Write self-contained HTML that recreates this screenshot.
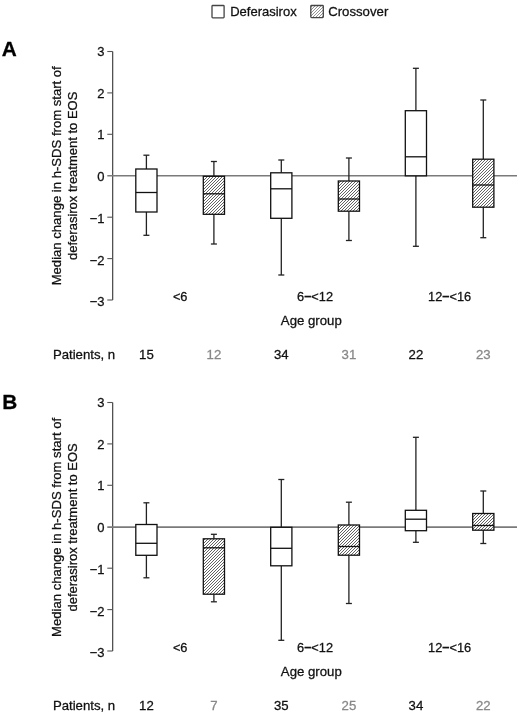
<!DOCTYPE html><html><head><meta charset="utf-8"><style>
html,body{margin:0;padding:0;background:#fff;}
body{width:520px;height:715px;overflow:hidden;filter:grayscale(1);}
svg{display:block;}
text{font-family:"Liberation Sans", sans-serif;stroke-width:0.28px;}
</style></head><body>
<svg width="520" height="715" viewBox="0 0 520 715">
<rect width="520" height="715" fill="#fff"/>
<rect x="212" y="5.5" width="12.1" height="12.3" fill="#fff" stroke="#444" stroke-width="1.3" rx="0.8"/>
<text x="230.2" y="15.7" font-size="13" fill="#111" stroke="#111">Deferasirox</text>
<clipPath id="c1"><rect x="310.80" y="5.50" width="12.50" height="12.10"/></clipPath>
<rect x="310.80" y="5.50" width="12.50" height="12.10" fill="#fff"/>
<path clip-path="url(#c1)" d="M297.40,17.60 L309.50,5.50 M300.40,17.60 L312.50,5.50 M303.40,17.60 L315.50,5.50 M306.40,17.60 L318.50,5.50 M309.40,17.60 L321.50,5.50 M312.40,17.60 L324.50,5.50 M315.40,17.60 L327.50,5.50 M318.40,17.60 L330.50,5.50 M321.40,17.60 L333.50,5.50" stroke="#777" stroke-width="0.80" fill="none"/>
<rect x="310.8" y="5.5" width="12.5" height="12.1" fill="none" stroke="#444" stroke-width="1.3" rx="0.8"/>
<text x="328.2" y="15.7" font-size="13.2" fill="#111" stroke="#111">Crossover</text>
<text x="1.7" y="56" font-size="20.8" font-weight="bold" fill="#000" stroke="#000">A</text>
<text transform="translate(61.3,175.8) rotate(-90)" font-size="13.1" text-anchor="middle" fill="#111" stroke="#111">Median change in h-SDS from start of</text>
<text transform="translate(76.8,175.8) rotate(-90)" font-size="13" text-anchor="middle" fill="#111" stroke="#111">deferasirox treatment to EOS</text>
<line x1="112.7" y1="51.5" x2="112.7" y2="300.0" stroke="#333" stroke-width="1.1"/>
<line x1="107.3" y1="51.5" x2="112.7" y2="51.5" stroke="#555" stroke-width="1.1"/>
<text x="104.6" y="55.9" font-size="13" text-anchor="end" fill="#111" stroke="#111">3</text>
<line x1="107.3" y1="92.9" x2="112.7" y2="92.9" stroke="#555" stroke-width="1.1"/>
<text x="104.6" y="97.6" font-size="13" text-anchor="end" fill="#111" stroke="#111">2</text>
<line x1="107.3" y1="134.3" x2="112.7" y2="134.3" stroke="#555" stroke-width="1.1"/>
<text x="104.6" y="139.3" font-size="13" text-anchor="end" fill="#111" stroke="#111">1</text>
<text x="104.6" y="181.1" font-size="13" text-anchor="end" fill="#111" stroke="#111">0</text>
<line x1="107.3" y1="217.2" x2="112.7" y2="217.2" stroke="#555" stroke-width="1.1"/>
<text x="104.6" y="222.8" font-size="13" text-anchor="end" fill="#111" stroke="#111">−1</text>
<line x1="107.3" y1="258.6" x2="112.7" y2="258.6" stroke="#555" stroke-width="1.1"/>
<text x="104.6" y="264.5" font-size="13" text-anchor="end" fill="#111" stroke="#111">−2</text>
<line x1="107.3" y1="300.0" x2="112.7" y2="300.0" stroke="#555" stroke-width="1.1"/>
<text x="104.6" y="306.2" font-size="13" text-anchor="end" fill="#111" stroke="#111">−3</text>
<line x1="107.3" y1="175.76" x2="517" y2="175.76" stroke="#7a7a7a" stroke-width="1.7"/>
<line x1="146.4" y1="155.2" x2="146.4" y2="169.0" stroke="#222" stroke-width="1.3"/>
<line x1="146.4" y1="212.0" x2="146.4" y2="235.3" stroke="#222" stroke-width="1.3"/>
<line x1="143.4" y1="155.2" x2="149.4" y2="155.2" stroke="#222" stroke-width="1.3"/>
<line x1="143.4" y1="235.3" x2="149.4" y2="235.3" stroke="#222" stroke-width="1.3"/>
<rect x="135.8" y="169.0" width="21.2" height="43.0" fill="#fff" stroke="#111" stroke-width="1.3"/>
<line x1="135.8" y1="192.5" x2="157.0" y2="192.5" stroke="#111" stroke-width="1.3"/>
<line x1="213.9" y1="161.5" x2="213.9" y2="176.3" stroke="#222" stroke-width="1.3"/>
<line x1="213.9" y1="214.3" x2="213.9" y2="244.0" stroke="#222" stroke-width="1.3"/>
<line x1="210.9" y1="161.5" x2="216.9" y2="161.5" stroke="#222" stroke-width="1.3"/>
<line x1="210.9" y1="244.0" x2="216.9" y2="244.0" stroke="#222" stroke-width="1.3"/>
<clipPath id="c2"><rect x="203.30" y="176.30" width="21.20" height="38.00"/></clipPath>
<rect x="203.30" y="176.30" width="21.20" height="38.00" fill="#fff"/>
<path clip-path="url(#c2)" d="M163.70,214.30 L201.70,176.30 M166.70,214.30 L204.70,176.30 M169.70,214.30 L207.70,176.30 M172.70,214.30 L210.70,176.30 M175.70,214.30 L213.70,176.30 M178.70,214.30 L216.70,176.30 M181.70,214.30 L219.70,176.30 M184.70,214.30 L222.70,176.30 M187.70,214.30 L225.70,176.30 M190.70,214.30 L228.70,176.30 M193.70,214.30 L231.70,176.30 M196.70,214.30 L234.70,176.30 M199.70,214.30 L237.70,176.30 M202.70,214.30 L240.70,176.30 M205.70,214.30 L243.70,176.30 M208.70,214.30 L246.70,176.30 M211.70,214.30 L249.70,176.30 M214.70,214.30 L252.70,176.30 M217.70,214.30 L255.70,176.30 M220.70,214.30 L258.70,176.30 M223.70,214.30 L261.70,176.30" stroke="#5a5a5a" stroke-width="0.95" fill="none"/>
<rect x="203.3" y="176.3" width="21.2" height="38.0" fill="none" stroke="#111" stroke-width="1.3"/>
<line x1="203.3" y1="193.8" x2="224.5" y2="193.8" stroke="#111" stroke-width="1.3"/>
<line x1="281.3" y1="160.0" x2="281.3" y2="172.8" stroke="#222" stroke-width="1.3"/>
<line x1="281.3" y1="218.3" x2="281.3" y2="275.0" stroke="#222" stroke-width="1.3"/>
<line x1="278.3" y1="160.0" x2="284.3" y2="160.0" stroke="#222" stroke-width="1.3"/>
<line x1="278.3" y1="275.0" x2="284.3" y2="275.0" stroke="#222" stroke-width="1.3"/>
<rect x="270.7" y="172.8" width="21.2" height="45.5" fill="#fff" stroke="#111" stroke-width="1.3"/>
<line x1="270.7" y1="188.8" x2="291.9" y2="188.8" stroke="#111" stroke-width="1.3"/>
<line x1="348.9" y1="158.0" x2="348.9" y2="181.0" stroke="#222" stroke-width="1.3"/>
<line x1="348.9" y1="211.2" x2="348.9" y2="240.5" stroke="#222" stroke-width="1.3"/>
<line x1="345.9" y1="158.0" x2="351.9" y2="158.0" stroke="#222" stroke-width="1.3"/>
<line x1="345.9" y1="240.5" x2="351.9" y2="240.5" stroke="#222" stroke-width="1.3"/>
<clipPath id="c3"><rect x="338.30" y="181.00" width="21.20" height="30.20"/></clipPath>
<rect x="338.30" y="181.00" width="21.20" height="30.20" fill="#fff"/>
<path clip-path="url(#c3)" d="M307.80,211.20 L338.00,181.00 M310.80,211.20 L341.00,181.00 M313.80,211.20 L344.00,181.00 M316.80,211.20 L347.00,181.00 M319.80,211.20 L350.00,181.00 M322.80,211.20 L353.00,181.00 M325.80,211.20 L356.00,181.00 M328.80,211.20 L359.00,181.00 M331.80,211.20 L362.00,181.00 M334.80,211.20 L365.00,181.00 M337.80,211.20 L368.00,181.00 M340.80,211.20 L371.00,181.00 M343.80,211.20 L374.00,181.00 M346.80,211.20 L377.00,181.00 M349.80,211.20 L380.00,181.00 M352.80,211.20 L383.00,181.00 M355.80,211.20 L386.00,181.00 M358.80,211.20 L389.00,181.00" stroke="#5a5a5a" stroke-width="0.95" fill="none"/>
<rect x="338.3" y="181.0" width="21.2" height="30.2" fill="none" stroke="#111" stroke-width="1.3"/>
<line x1="338.3" y1="199.0" x2="359.5" y2="199.0" stroke="#111" stroke-width="1.3"/>
<line x1="415.9" y1="68.3" x2="415.9" y2="110.7" stroke="#222" stroke-width="1.3"/>
<line x1="415.9" y1="175.8" x2="415.9" y2="246.3" stroke="#222" stroke-width="1.3"/>
<line x1="412.9" y1="68.3" x2="418.9" y2="68.3" stroke="#222" stroke-width="1.3"/>
<line x1="412.9" y1="246.3" x2="418.9" y2="246.3" stroke="#222" stroke-width="1.3"/>
<rect x="405.3" y="110.7" width="21.2" height="65.1" fill="#fff" stroke="#111" stroke-width="1.3"/>
<line x1="405.3" y1="156.8" x2="426.5" y2="156.8" stroke="#111" stroke-width="1.3"/>
<line x1="483.3" y1="100.0" x2="483.3" y2="159.2" stroke="#222" stroke-width="1.3"/>
<line x1="483.3" y1="207.2" x2="483.3" y2="237.7" stroke="#222" stroke-width="1.3"/>
<line x1="480.3" y1="100.0" x2="486.3" y2="100.0" stroke="#222" stroke-width="1.3"/>
<line x1="480.3" y1="237.7" x2="486.3" y2="237.7" stroke="#222" stroke-width="1.3"/>
<clipPath id="c4"><rect x="472.70" y="159.20" width="21.20" height="48.00"/></clipPath>
<rect x="472.70" y="159.20" width="21.20" height="48.00" fill="#fff"/>
<path clip-path="url(#c4)" d="M422.80,207.20 L470.80,159.20 M425.80,207.20 L473.80,159.20 M428.80,207.20 L476.80,159.20 M431.80,207.20 L479.80,159.20 M434.80,207.20 L482.80,159.20 M437.80,207.20 L485.80,159.20 M440.80,207.20 L488.80,159.20 M443.80,207.20 L491.80,159.20 M446.80,207.20 L494.80,159.20 M449.80,207.20 L497.80,159.20 M452.80,207.20 L500.80,159.20 M455.80,207.20 L503.80,159.20 M458.80,207.20 L506.80,159.20 M461.80,207.20 L509.80,159.20 M464.80,207.20 L512.80,159.20 M467.80,207.20 L515.80,159.20 M470.80,207.20 L518.80,159.20 M473.80,207.20 L521.80,159.20 M476.80,207.20 L524.80,159.20 M479.80,207.20 L527.80,159.20 M482.80,207.20 L530.80,159.20 M485.80,207.20 L533.80,159.20 M488.80,207.20 L536.80,159.20 M491.80,207.20 L539.80,159.20" stroke="#5a5a5a" stroke-width="0.95" fill="none"/>
<rect x="472.7" y="159.2" width="21.2" height="48.0" fill="none" stroke="#111" stroke-width="1.3"/>
<line x1="472.7" y1="185.0" x2="493.9" y2="185.0" stroke="#111" stroke-width="1.3"/>
<text x="180.2" y="301.2" font-size="12.8" text-anchor="middle" fill="#111" stroke="#111">&lt;6</text>
<text x="315.1" y="301.2" font-size="12.8" text-anchor="middle" fill="#111" stroke="#111">6<tspan font-weight="bold" dy="-0.8">–</tspan><tspan dy="0.8">&lt;12</tspan></text>
<text x="449.6" y="301.2" font-size="12.8" text-anchor="middle" fill="#111" stroke="#111">12<tspan font-weight="bold" dy="-0.8">–</tspan><tspan dy="0.8">&lt;16</tspan></text>
<text x="311.3" y="324.6" font-size="13.2" text-anchor="middle" fill="#111" stroke="#111">Age group</text>
<text x="52.9" y="359.2" font-size="13.2" fill="#111" stroke="#111">Patients, n</text>
<text x="146.4" y="359.3" font-size="13.2" text-anchor="middle" fill="#111" stroke="#111">15</text>
<text x="213.9" y="359.3" font-size="13.2" text-anchor="middle" fill="#888" stroke="#888">12</text>
<text x="281.3" y="359.3" font-size="13.2" text-anchor="middle" fill="#111" stroke="#111">34</text>
<text x="348.9" y="359.3" font-size="13.2" text-anchor="middle" fill="#888" stroke="#888">31</text>
<text x="415.9" y="359.3" font-size="13.2" text-anchor="middle" fill="#111" stroke="#111">22</text>
<text x="483.3" y="359.3" font-size="13.2" text-anchor="middle" fill="#888" stroke="#888">23</text>
<text x="2.2" y="408.8" font-size="20.8" font-weight="bold" fill="#000" stroke="#000">B</text>
<text transform="translate(61.3,527.4) rotate(-90)" font-size="13.1" text-anchor="middle" fill="#111" stroke="#111">Median change in h-SDS from start of</text>
<text transform="translate(76.8,527.4) rotate(-90)" font-size="13" text-anchor="middle" fill="#111" stroke="#111">deferasirox treatment to EOS</text>
<line x1="112.7" y1="402.5" x2="112.7" y2="651.0" stroke="#333" stroke-width="1.1"/>
<line x1="107.3" y1="402.5" x2="112.7" y2="402.5" stroke="#555" stroke-width="1.1"/>
<text x="104.6" y="406.9" font-size="13" text-anchor="end" fill="#111" stroke="#111">3</text>
<line x1="107.3" y1="443.9" x2="112.7" y2="443.9" stroke="#555" stroke-width="1.1"/>
<text x="104.6" y="448.6" font-size="13" text-anchor="end" fill="#111" stroke="#111">2</text>
<line x1="107.3" y1="485.3" x2="112.7" y2="485.3" stroke="#555" stroke-width="1.1"/>
<text x="104.6" y="490.3" font-size="13" text-anchor="end" fill="#111" stroke="#111">1</text>
<text x="104.6" y="532.1" font-size="13" text-anchor="end" fill="#111" stroke="#111">0</text>
<line x1="107.3" y1="568.2" x2="112.7" y2="568.2" stroke="#555" stroke-width="1.1"/>
<text x="104.6" y="573.8" font-size="13" text-anchor="end" fill="#111" stroke="#111">−1</text>
<line x1="107.3" y1="609.6" x2="112.7" y2="609.6" stroke="#555" stroke-width="1.1"/>
<text x="104.6" y="615.5" font-size="13" text-anchor="end" fill="#111" stroke="#111">−2</text>
<line x1="107.3" y1="651.0" x2="112.7" y2="651.0" stroke="#555" stroke-width="1.1"/>
<text x="104.6" y="657.2" font-size="13" text-anchor="end" fill="#111" stroke="#111">−3</text>
<line x1="107.3" y1="527.06" x2="517" y2="527.06" stroke="#7a7a7a" stroke-width="1.7"/>
<line x1="146.4" y1="502.8" x2="146.4" y2="524.5" stroke="#222" stroke-width="1.3"/>
<line x1="146.4" y1="555.3" x2="146.4" y2="577.8" stroke="#222" stroke-width="1.3"/>
<line x1="143.4" y1="502.8" x2="149.4" y2="502.8" stroke="#222" stroke-width="1.3"/>
<line x1="143.4" y1="577.8" x2="149.4" y2="577.8" stroke="#222" stroke-width="1.3"/>
<rect x="135.8" y="524.5" width="21.2" height="30.8" fill="#fff" stroke="#111" stroke-width="1.3"/>
<line x1="135.8" y1="543.3" x2="157.0" y2="543.3" stroke="#111" stroke-width="1.3"/>
<line x1="213.9" y1="534.3" x2="213.9" y2="538.8" stroke="#222" stroke-width="1.3"/>
<line x1="213.9" y1="594.2" x2="213.9" y2="601.8" stroke="#222" stroke-width="1.3"/>
<line x1="210.9" y1="534.3" x2="216.9" y2="534.3" stroke="#222" stroke-width="1.3"/>
<line x1="210.9" y1="601.8" x2="216.9" y2="601.8" stroke="#222" stroke-width="1.3"/>
<clipPath id="c5"><rect x="203.30" y="538.80" width="21.20" height="55.40"/></clipPath>
<rect x="203.30" y="538.80" width="21.20" height="55.40" fill="#fff"/>
<path clip-path="url(#c5)" d="M146.80,594.20 L202.20,538.80 M149.80,594.20 L205.20,538.80 M152.80,594.20 L208.20,538.80 M155.80,594.20 L211.20,538.80 M158.80,594.20 L214.20,538.80 M161.80,594.20 L217.20,538.80 M164.80,594.20 L220.20,538.80 M167.80,594.20 L223.20,538.80 M170.80,594.20 L226.20,538.80 M173.80,594.20 L229.20,538.80 M176.80,594.20 L232.20,538.80 M179.80,594.20 L235.20,538.80 M182.80,594.20 L238.20,538.80 M185.80,594.20 L241.20,538.80 M188.80,594.20 L244.20,538.80 M191.80,594.20 L247.20,538.80 M194.80,594.20 L250.20,538.80 M197.80,594.20 L253.20,538.80 M200.80,594.20 L256.20,538.80 M203.80,594.20 L259.20,538.80 M206.80,594.20 L262.20,538.80 M209.80,594.20 L265.20,538.80 M212.80,594.20 L268.20,538.80 M215.80,594.20 L271.20,538.80 M218.80,594.20 L274.20,538.80 M221.80,594.20 L277.20,538.80" stroke="#5a5a5a" stroke-width="0.95" fill="none"/>
<rect x="203.3" y="538.8" width="21.2" height="55.4" fill="none" stroke="#111" stroke-width="1.3"/>
<line x1="203.3" y1="547.8" x2="224.5" y2="547.8" stroke="#111" stroke-width="1.3"/>
<line x1="281.3" y1="479.5" x2="281.3" y2="527.3" stroke="#222" stroke-width="1.3"/>
<line x1="281.3" y1="565.8" x2="281.3" y2="640.3" stroke="#222" stroke-width="1.3"/>
<line x1="278.3" y1="479.5" x2="284.3" y2="479.5" stroke="#222" stroke-width="1.3"/>
<line x1="278.3" y1="640.3" x2="284.3" y2="640.3" stroke="#222" stroke-width="1.3"/>
<rect x="270.7" y="527.3" width="21.2" height="38.5" fill="#fff" stroke="#111" stroke-width="1.3"/>
<line x1="270.7" y1="548.3" x2="291.9" y2="548.3" stroke="#111" stroke-width="1.3"/>
<line x1="348.9" y1="502.2" x2="348.9" y2="525.0" stroke="#222" stroke-width="1.3"/>
<line x1="348.9" y1="555.2" x2="348.9" y2="603.5" stroke="#222" stroke-width="1.3"/>
<line x1="345.9" y1="502.2" x2="351.9" y2="502.2" stroke="#222" stroke-width="1.3"/>
<line x1="345.9" y1="603.5" x2="351.9" y2="603.5" stroke="#222" stroke-width="1.3"/>
<clipPath id="c6"><rect x="338.30" y="525.00" width="21.20" height="30.20"/></clipPath>
<rect x="338.30" y="525.00" width="21.20" height="30.20" fill="#fff"/>
<path clip-path="url(#c6)" d="M305.80,555.20 L336.00,525.00 M308.80,555.20 L339.00,525.00 M311.80,555.20 L342.00,525.00 M314.80,555.20 L345.00,525.00 M317.80,555.20 L348.00,525.00 M320.80,555.20 L351.00,525.00 M323.80,555.20 L354.00,525.00 M326.80,555.20 L357.00,525.00 M329.80,555.20 L360.00,525.00 M332.80,555.20 L363.00,525.00 M335.80,555.20 L366.00,525.00 M338.80,555.20 L369.00,525.00 M341.80,555.20 L372.00,525.00 M344.80,555.20 L375.00,525.00 M347.80,555.20 L378.00,525.00 M350.80,555.20 L381.00,525.00 M353.80,555.20 L384.00,525.00 M356.80,555.20 L387.00,525.00" stroke="#5a5a5a" stroke-width="0.95" fill="none"/>
<rect x="338.3" y="525.0" width="21.2" height="30.2" fill="none" stroke="#111" stroke-width="1.3"/>
<line x1="338.3" y1="546.5" x2="359.5" y2="546.5" stroke="#111" stroke-width="1.3"/>
<line x1="415.9" y1="437.3" x2="415.9" y2="510.3" stroke="#222" stroke-width="1.3"/>
<line x1="415.9" y1="530.7" x2="415.9" y2="542.3" stroke="#222" stroke-width="1.3"/>
<line x1="412.9" y1="437.3" x2="418.9" y2="437.3" stroke="#222" stroke-width="1.3"/>
<line x1="412.9" y1="542.3" x2="418.9" y2="542.3" stroke="#222" stroke-width="1.3"/>
<rect x="405.3" y="510.3" width="21.2" height="20.4" fill="#fff" stroke="#111" stroke-width="1.3"/>
<line x1="405.3" y1="519.2" x2="426.5" y2="519.2" stroke="#111" stroke-width="1.3"/>
<line x1="483.3" y1="491.0" x2="483.3" y2="513.5" stroke="#222" stroke-width="1.3"/>
<line x1="483.3" y1="530.2" x2="483.3" y2="543.5" stroke="#222" stroke-width="1.3"/>
<line x1="480.3" y1="491.0" x2="486.3" y2="491.0" stroke="#222" stroke-width="1.3"/>
<line x1="480.3" y1="543.5" x2="486.3" y2="543.5" stroke="#222" stroke-width="1.3"/>
<clipPath id="c7"><rect x="472.70" y="513.50" width="21.20" height="16.70"/></clipPath>
<rect x="472.70" y="513.50" width="21.20" height="16.70" fill="#fff"/>
<path clip-path="url(#c7)" d="M453.80,530.20 L470.50,513.50 M456.80,530.20 L473.50,513.50 M459.80,530.20 L476.50,513.50 M462.80,530.20 L479.50,513.50 M465.80,530.20 L482.50,513.50 M468.80,530.20 L485.50,513.50 M471.80,530.20 L488.50,513.50 M474.80,530.20 L491.50,513.50 M477.80,530.20 L494.50,513.50 M480.80,530.20 L497.50,513.50 M483.80,530.20 L500.50,513.50 M486.80,530.20 L503.50,513.50 M489.80,530.20 L506.50,513.50 M492.80,530.20 L509.50,513.50" stroke="#5a5a5a" stroke-width="0.95" fill="none"/>
<rect x="472.7" y="513.5" width="21.2" height="16.7" fill="none" stroke="#111" stroke-width="1.3"/>
<line x1="472.7" y1="525.5" x2="493.9" y2="525.5" stroke="#111" stroke-width="1.3"/>
<text x="180.2" y="652.2" font-size="12.8" text-anchor="middle" fill="#111" stroke="#111">&lt;6</text>
<text x="315.1" y="652.2" font-size="12.8" text-anchor="middle" fill="#111" stroke="#111">6<tspan font-weight="bold" dy="-0.8">–</tspan><tspan dy="0.8">&lt;12</tspan></text>
<text x="449.6" y="652.2" font-size="12.8" text-anchor="middle" fill="#111" stroke="#111">12<tspan font-weight="bold" dy="-0.8">–</tspan><tspan dy="0.8">&lt;16</tspan></text>
<text x="311.3" y="675.6" font-size="13.2" text-anchor="middle" fill="#111" stroke="#111">Age group</text>
<text x="52.9" y="710.2" font-size="13.2" fill="#111" stroke="#111">Patients, n</text>
<text x="146.4" y="710.3" font-size="13.2" text-anchor="middle" fill="#111" stroke="#111">12</text>
<text x="213.9" y="710.3" font-size="13.2" text-anchor="middle" fill="#888" stroke="#888">7</text>
<text x="281.3" y="710.3" font-size="13.2" text-anchor="middle" fill="#111" stroke="#111">35</text>
<text x="348.9" y="710.3" font-size="13.2" text-anchor="middle" fill="#888" stroke="#888">25</text>
<text x="415.9" y="710.3" font-size="13.2" text-anchor="middle" fill="#111" stroke="#111">34</text>
<text x="483.3" y="710.3" font-size="13.2" text-anchor="middle" fill="#888" stroke="#888">22</text>
</svg></body></html>
